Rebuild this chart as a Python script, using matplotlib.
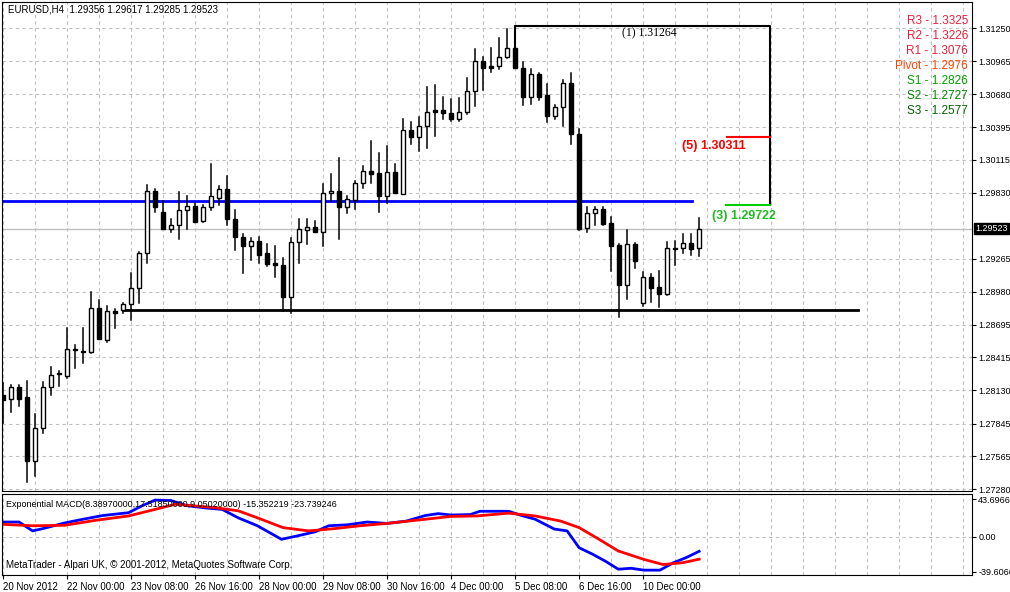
import numpy as np
import matplotlib.pyplot as plt
from matplotlib.patches import Rectangle

# EURUSD H4 candles, 20 Nov .. 10 Dec 2012
opens = [1.2809, 1.2806, 1.2816, 1.2807, 1.2752, 1.2781, 1.2816, 1.2827, 1.2825, 1.2849,
         1.2847, 1.2846, 1.2884, 1.2856, 1.2881, 1.2882, 1.2887, 1.2901, 1.2931, 1.2985,
         1.2967, 1.2952, 1.2955, 1.2968, 1.2972, 1.2959, 1.2971, 1.2979, 1.2986, 1.2961,
         1.2945, 1.2937, 1.2942, 1.2931, 1.2923, 1.2921, 1.2893, 1.2941, 1.2951, 1.2954,
         1.2949, 1.2983, 1.2985, 1.2971, 1.2977, 1.2992, 1.3002, 1.3000, 1.2980, 1.3001,
         1.2982, 1.3037, 1.3031, 1.3041, 1.3054, 1.3054, 1.3052, 1.3047, 1.3053, 1.3071,
         1.3097, 1.3092, 1.3092, 1.3100, 1.3108, 1.3091, 1.3066, 1.3085, 1.3067, 1.3049,
         1.3057, 1.3078, 1.3034, 1.2953, 1.2966, 1.2969, 1.2957, 1.2938, 1.2904, 1.2939,
         1.2888, 1.2911, 1.2902, 1.2896, 1.2936, 1.2936, 1.2940, 1.29356]
highs = [1.2819, 1.2818, 1.2818, 1.2821, 1.2793, 1.2820, 1.2833, 1.2830, 1.2867, 1.2852,
         1.2867, 1.2898, 1.2891, 1.2886, 1.2883, 1.2888, 1.2914, 1.2932, 1.2990, 1.2986,
         1.2976, 1.2961, 1.2984, 1.2980, 1.2974, 1.2973, 1.3008, 1.2989, 1.2998, 1.2968,
         1.2948, 1.2944, 1.2945, 1.2939, 1.2937, 1.2927, 1.2944, 1.2961, 1.2961, 1.2959,
         1.2991, 1.2999, 1.3013, 1.2980, 1.2993, 1.3006, 1.3028, 1.3017, 1.3023, 1.3008,
         1.3047, 1.3044, 1.3048, 1.3074, 1.3076, 1.3066, 1.3064, 1.3065, 1.3082, 1.3107,
         1.3100, 1.3108, 1.3116, 1.3124, 1.31264, 1.3096, 1.3090, 1.3086, 1.3077, 1.3059,
         1.3080, 1.3086, 1.3038, 1.2971, 1.2971, 1.2971, 1.2962, 1.2939, 1.2951, 1.2940,
         1.2915, 1.2913, 1.2916, 1.2941, 1.2942, 1.2948, 1.2948, 1.29617]
lows = [1.2785, 1.2794, 1.2800, 1.2734, 1.2739, 1.2776, 1.2809, 1.2817, 1.2824, 1.2832,
        1.2837, 1.2845, 1.2857, 1.2855, 1.2867, 1.2880, 1.2874, 1.2888, 1.2923, 1.2967,
        1.2952, 1.2949, 1.2943, 1.2952, 1.2958, 1.2958, 1.2968, 1.2973, 1.2955, 1.2934,
        1.2914, 1.2925, 1.2923, 1.2920, 1.2911, 1.2881, 1.2880, 1.2923, 1.2939, 1.2949,
        1.2937, 1.2976, 1.2943, 1.2966, 1.2969, 1.2987, 1.2992, 1.2967, 1.2974, 1.2983,
        1.2982, 1.3025, 1.3019, 1.3022, 1.3032, 1.3047, 1.3045, 1.3045, 1.3051, 1.3058,
        1.3072, 1.3087, 1.3090, 1.3099, 1.3091, 1.3059, 1.3060, 1.3063, 1.3044, 1.3047,
        1.3041, 1.3025, 1.2951, 1.2949, 1.2955, 1.2955, 1.2916, 1.2876, 1.2892, 1.2918,
        1.2886, 1.2889, 1.2885, 1.2895, 1.2921, 1.2931, 1.2930, 1.29285]
closes = [1.2805, 1.2816, 1.2806, 1.2752, 1.2781, 1.2816, 1.2826, 1.2828, 1.2849, 1.2848,
          1.2846, 1.2884, 1.2857, 1.2881, 1.2880, 1.2887, 1.2901, 1.2931, 1.2985, 1.2971,
          1.2952, 1.2955, 1.2968, 1.2972, 1.2958, 1.2971, 1.2980, 1.2986, 1.2961, 1.2945,
          1.2937, 1.2942, 1.2930, 1.2922, 1.2921, 1.2893, 1.2941, 1.2952, 1.2954, 1.2949,
          1.2983, 1.2985, 1.2971, 1.2978, 1.2992, 1.3002, 1.2999, 1.2980, 1.3001, 1.2983,
          1.3037, 1.3031, 1.3041, 1.3053, 1.3053, 1.3052, 1.3047, 1.3053, 1.3071, 1.3097,
          1.3091, 1.3091, 1.3100, 1.3108, 1.3091, 1.3066, 1.3085, 1.3066, 1.3049, 1.3057,
          1.3078, 1.3034, 1.2952, 1.2966, 1.2969, 1.2956, 1.2937, 1.2904, 1.2939, 1.2924,
          1.2911, 1.2901, 1.2896, 1.2936, 1.2935, 1.2940, 1.2935, 1.29523]

date_labels = ["20 Nov 2012", "22 Nov 00:00", "23 Nov 08:00", "26 Nov 16:00", "28 Nov 00:00",
               "29 Nov 08:00", "30 Nov 16:00", "4 Dec 00:00", "5 Dec 08:00", "6 Dec 16:00",
               "10 Dec 00:00"]
price_ticks = [1.31250, 1.30965, 1.30680, 1.30395, 1.30115, 1.29830, 1.29265, 1.28980,
               1.28695, 1.28415, 1.28130, 1.27845, 1.27565, 1.27280]

pivot_names = ["R3", "R2", "R1", "Pivot", "S1", "S2", "S3"]
pivot_values = ["1.3325", "1.3226", "1.3076", "1.2976", "1.2826", "1.2727", "1.2577"]
pivot_colors = ["#e8203c", "#e8203c", "#e8203c", "#ff4500", "#00a000", "#008800", "#006400"]

pivot_level = 1.2976
support_level = 1.2882
top_level = 1.31264
target5 = 1.30311
target3 = 1.29722

# MACD (blue) and signal (red), sampled along the candle index
macd_x = [0, 2, 3.7, 5, 7.7, 10, 12.5, 15.7, 17.3, 19, 21, 23, 25.4, 27.4, 29.4, 31.8, 34.8,
          36.7, 39, 40.7, 43, 45.5, 48, 50.4, 52.8, 54.4, 56, 58.4, 59.6, 63.2, 64.8, 66.5,
          68.9, 70.5, 72, 73.7, 75.3, 76.9, 78.5, 80.1, 82.1, 83.8, 85.4, 87]
macd_y = [16, 16, 6.5, 9, 15, 19, 23, 26, 33, 39.5, 39, 33.5, 31, 29.5, 20.5, 12, -2.5,
          1, 5.5, 12, 13, 16, 14.5, 17, 23, 25, 23.5, 24, 27.5, 27.5, 23, 19,
          8.5, 6.5, -11.5, -18.5, -26, -34.5, -33.5, -35.5, -35.5, -27.5, -22, -15.35]
sig_x = [0, 3.7, 7.7, 11.7, 15.7, 19, 21.5, 26.4, 29.4, 31.8, 35, 38.2, 41.5, 44.6, 48,
         52.8, 56, 59.2, 63.2, 66.5, 69.7, 72, 74.5, 76.9, 80.1, 82.5, 85, 87]
sig_y = [13.5, 12, 12.5, 18, 22.5, 29.5, 35, 31.5, 28, 20.5, 10, 6.5, 9, 12, 14.5,
         19, 22, 22.5, 25.5, 22.5, 17, 10, -2.5, -15, -24, -29.5, -27.5, -23.74]

W, H = 1010, 592
plt.rcParams["font.family"] = ["Liberation Sans", "DejaVu Sans"]
fig = plt.figure(figsize=(W / 100, H / 100), dpi=100)
fig.patch.set_facecolor("white")
ax = fig.add_axes([2 / W, (H - 491) / H, 970 / W, 489 / H])
axm = fig.add_axes([2 / W, (H - 575) / H, 970 / W, 81 / H])

xmin, xmax = -0.125, 121.1
grid_kw = dict(color="#c0c0c0", linestyle=(0, (3, 3)), linewidth=0.8, zorder=0)

# ---- main price panel
for p in price_ticks:
    ax.axhline(p, **grid_kw)
for gx in range(0, 122, 4):
    ax.axvline(gx, **grid_kw)
    axm.axvline(gx, **grid_kw)

ax.axhline(closes[-1], color="#c0c0c0", linewidth=1, zorder=1)

for i, (o, h, l, c) in enumerate(zip(opens, highs, lows, closes)):
    ax.plot([i, i], [l, h], color="black", linewidth=1.1, zorder=3)
    lo, hi = min(o, c), max(o, c)
    hgt = max(hi - lo, 0.00003)
    face = "white" if c > o else "black"
    ax.add_patch(Rectangle((i - 0.27, lo), 0.54, hgt, facecolor=face, edgecolor="black",
                           linewidth=1, zorder=4))

ax.plot([xmin, 86.1], [pivot_level, pivot_level], color="#0000ff", linewidth=2, zorder=2)
ax.plot([15, 106.9], [support_level, support_level], color="black", linewidth=2, zorder=2)

# measured-move box
ax.plot([64, 64, 95.9, 95.9], [1.3108, top_level, top_level, target3],
        color="black", linewidth=1.5, zorder=2)
ax.plot([90.5, 95.9], [target5, target5], color="red", linewidth=1.5)
ax.plot([90.3, 95.9], [target3, target3], color="#00cc00", linewidth=1.5)
ax.text(77.4, top_level - 0.00007, "(1) 1.31264", ha="left", va="top", fontsize=8.5,
        family="Liberation Serif")
ax.text(84.9, target5 - 0.00075, "(5) 1.30311", color="red", fontsize=9,
        fontweight="bold", va="center")
ax.text(88.6, target3 - 0.0009, "(3) 1.29722", color="#22bb22", fontsize=9,
        fontweight="bold", va="center")

ax.text(6 / 970, 1 - 8 / 489, "EURUSD,H4  1.29356 1.29617 1.29285 1.29523",
        transform=ax.transAxes, fontsize=7, va="center")

for k, (nm, val, col) in enumerate(zip(pivot_names, pivot_values, pivot_colors)):
    ax.text(966 / 970, 1 - (19 + 15 * k) / 489, f"{nm} - {val}", color=col,
            transform=ax.transAxes, fontsize=8.5, ha="right", va="center")

ax.set_xlim(xmin, xmax)
ax.set_ylim(1.27264, 1.31474)
ax.yaxis.tick_right()
ax.set_yticks(price_ticks)
ax.set_yticklabels([f"{p:.5f}" for p in price_ticks], fontsize=6.5)
ax.tick_params(axis="y", length=3, pad=1.5)
ax.set_xticks([])
ax.text(1.003, (closes[-1] - 1.27264) / (1.31474 - 1.27264), f"{closes[-1]:.5f}",
        transform=ax.transAxes, fontsize=6.5, color="white", va="center",
        bbox=dict(boxstyle="square,pad=0.15", facecolor="black", edgecolor="black"))
for s in ax.spines.values():
    s.set_color("black")

# ---- MACD panel
axm.axhline(0, **grid_kw)
axm.plot(macd_x, macd_y, color="#0000ff", linewidth=2)
axm.plot(sig_x, sig_y, color="#ff0000", linewidth=2)
axm.set_xlim(xmin, xmax)
axm.set_ylim(-40.7, 46)
axm.yaxis.tick_right()
axm.set_yticks([40.5, 0.0, -37.0])
axm.set_yticklabels(["43.6966", "0.00", "-39.6066"], fontsize=6.5)
axm.tick_params(axis="y", length=3, pad=1.5)
axm.set_xticks(range(0, 88, 8))
axm.set_xticklabels(date_labels, fontsize=7, ha="left")
axm.tick_params(axis="x", length=3, pad=2)
axm.text(4 / 970, 0.87, "Exponential MACD(8.38970000,17.51850000,9.05020000) -15.352219 -23.739246",
         transform=axm.transAxes, fontsize=6.5, va="center")
axm.text(4 / 970, 0.12, "MetaTrader - Alpari UK, \u00a9 2001-2012, MetaQuotes Software Corp.",
         transform=axm.transAxes, fontsize=7, va="center")

fig.savefig("out.png", dpi=100)
